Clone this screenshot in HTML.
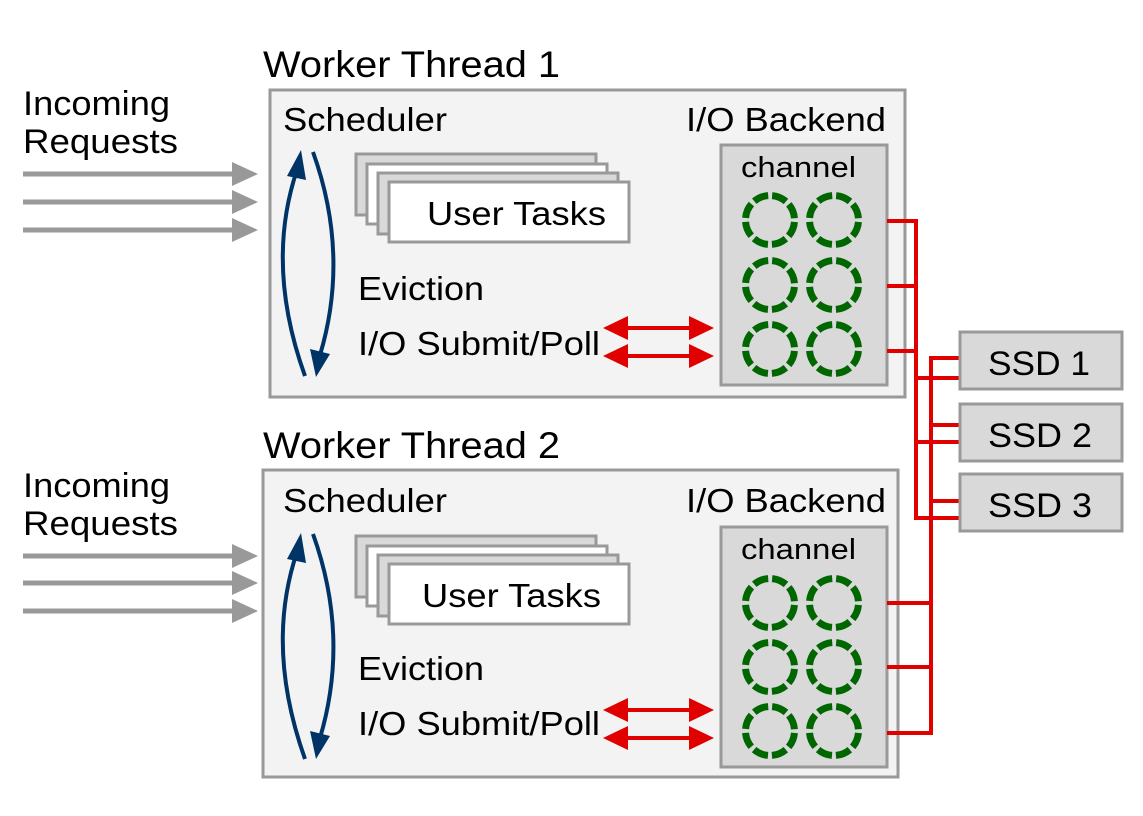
<!DOCTYPE html>
<html><head><style>html,body{margin:0;padding:0;background:#fff}svg{display:block}</style></head><body>
<svg width="1143" height="816" viewBox="0 0 1143 816" xmlns="http://www.w3.org/2000/svg" font-family="Liberation Sans, sans-serif">
<style>
.r{stroke:#e00000;stroke-width:4;fill:none}
.c{fill:none;stroke:#006600;stroke-width:7;stroke-dasharray:15.24 4;stroke-dashoffset:-2}
</style>

<g stroke="#999" stroke-width="5">
<line x1="23" y1="174" x2="236" y2="174"/><line x1="23" y1="202" x2="236" y2="202"/><line x1="23" y1="230" x2="236" y2="230"/>
<line x1="23" y1="556" x2="236" y2="556"/><line x1="23" y1="583" x2="236" y2="583"/><line x1="23" y1="611" x2="236" y2="611"/>
</g>
<g fill="#999">
<path d="M232,162 L258,174 L232,186z"/><path d="M232,190 L258,202 L232,214z"/><path d="M232,218 L258,230 L232,242z"/>
<path d="M232,544 L258,556 L232,568z"/><path d="M232,571 L258,583 L232,595z"/><path d="M232,599 L258,611 L232,623z"/>
</g>
<text x="23" y="115" font-size="34" textLength="147" lengthAdjust="spacingAndGlyphs">Incoming</text>
<text x="23" y="153" font-size="34" textLength="155" lengthAdjust="spacingAndGlyphs">Requests</text>
<text x="23" y="497" font-size="34" textLength="147" lengthAdjust="spacingAndGlyphs">Incoming</text>
<text x="23" y="535" font-size="34" textLength="155" lengthAdjust="spacingAndGlyphs">Requests</text>

<text x="263" y="77" font-size="37" textLength="297" lengthAdjust="spacingAndGlyphs">Worker Thread 1</text>
<rect x="270" y="90" width="635" height="307" fill="#f3f3f3" stroke="#999" stroke-width="3"/>
<text x="283" y="131" font-size="33" textLength="164" lengthAdjust="spacingAndGlyphs">Scheduler</text>
<text x="686" y="131" font-size="33" textLength="200" lengthAdjust="spacingAndGlyphs">I/O Backend</text>
<rect x="356" y="154" width="240" height="61" fill="#d9d9d9" stroke="#999" stroke-width="3"/>
<rect x="367" y="164" width="240" height="60" fill="#fff" stroke="#999" stroke-width="3"/>
<rect x="378" y="173" width="240" height="61" fill="#d9d9d9" stroke="#999" stroke-width="3"/>
<rect x="389" y="182" width="240" height="60" fill="#fff" stroke="#999" stroke-width="3"/>
<text x="427" y="225" font-size="33" textLength="179" lengthAdjust="spacingAndGlyphs">User Tasks</text>
<text x="358" y="300" font-size="33" textLength="126" lengthAdjust="spacingAndGlyphs">Eviction</text>
<text x="358" y="355" font-size="33" textLength="242" lengthAdjust="spacingAndGlyphs">I/O Submit/Poll</text>
<path d="M305,376 Q265,265 297,170" stroke="#003366" stroke-width="4" fill="none"/>
<path d="M301,150 L287,176 L306,180z" fill="#003366"/>
<path d="M313,152 Q350,255 320,355" stroke="#003366" stroke-width="4" fill="none"/>
<path d="M316,377 L310,349 L330,354z" fill="#003366"/>
<rect x="721" y="145" width="166" height="240" fill="#d9d9d9" stroke="#999" stroke-width="3"/>
<text x="741" y="177" font-size="29" textLength="115" lengthAdjust="spacingAndGlyphs">channel</text>
<g class="c">
<circle cx="770" cy="220" r="24.5"/><circle cx="834" cy="220" r="24.5"/>
<circle cx="770" cy="285" r="24.5"/><circle cx="834" cy="285" r="24.5"/>
<circle cx="770" cy="349" r="24.5"/><circle cx="834" cy="349" r="24.5"/>
</g>
<g stroke="#e00000" stroke-width="4"><line x1="620" y1="328" x2="696" y2="328"/><line x1="620" y1="356" x2="696" y2="356"/></g>
<g fill="#e00000">
<path d="M603,328 L628,316 L628,340z"/><path d="M714,328 L689,316 L689,340z"/>
<path d="M603,356 L628,344 L628,368z"/><path d="M714,356 L689,344 L689,368z"/>
</g>

<text x="263" y="458" font-size="37" textLength="297" lengthAdjust="spacingAndGlyphs">Worker Thread 2</text>
<rect x="263" y="470" width="635" height="307" fill="#f3f3f3" stroke="#999" stroke-width="3"/>
<text x="283" y="512" font-size="33" textLength="164" lengthAdjust="spacingAndGlyphs">Scheduler</text>
<text x="686" y="512" font-size="33" textLength="200" lengthAdjust="spacingAndGlyphs">I/O Backend</text>
<rect x="356" y="536" width="240" height="61" fill="#d9d9d9" stroke="#999" stroke-width="3"/>
<rect x="367" y="546" width="240" height="60" fill="#fff" stroke="#999" stroke-width="3"/>
<rect x="378" y="555" width="240" height="61" fill="#d9d9d9" stroke="#999" stroke-width="3"/>
<rect x="389" y="564" width="240" height="60" fill="#fff" stroke="#999" stroke-width="3"/>
<text x="422" y="607" font-size="33" textLength="179" lengthAdjust="spacingAndGlyphs">User Tasks</text>
<text x="358" y="680" font-size="33" textLength="126" lengthAdjust="spacingAndGlyphs">Eviction</text>
<text x="358" y="735" font-size="33" textLength="242" lengthAdjust="spacingAndGlyphs">I/O Submit/Poll</text>
<path d="M305,759 Q265,647 297,552" stroke="#003366" stroke-width="4" fill="none"/>
<path d="M301,533 L287,559 L306,563z" fill="#003366"/>
<path d="M313,534 Q350,637 320,738" stroke="#003366" stroke-width="4" fill="none"/>
<path d="M316,759 L310,731 L330,736z" fill="#003366"/>
<rect x="721" y="527" width="166" height="240" fill="#d9d9d9" stroke="#999" stroke-width="3"/>
<text x="741" y="559" font-size="29" textLength="115" lengthAdjust="spacingAndGlyphs">channel</text>
<g class="c">
<circle cx="770" cy="603" r="24.5"/><circle cx="834" cy="603" r="24.5"/>
<circle cx="770" cy="667" r="24.5"/><circle cx="834" cy="667" r="24.5"/>
<circle cx="770" cy="731" r="24.5"/><circle cx="834" cy="731" r="24.5"/>
</g>
<g stroke="#e00000" stroke-width="4"><line x1="620" y1="710" x2="696" y2="710"/><line x1="620" y1="738" x2="696" y2="738"/></g>
<g fill="#e00000">
<path d="M603,710 L628,698 L628,722z"/><path d="M714,710 L689,698 L689,722z"/>
<path d="M603,738 L628,726 L628,750z"/><path d="M714,738 L689,726 L689,750z"/>
</g>

<g class="r">
<polyline points="887,221 916,221 916,518 960,518"/>
<line x1="887" y1="286" x2="916" y2="286"/>
<line x1="887" y1="351" x2="916" y2="351"/>
<line x1="916" y1="378" x2="960" y2="378"/>
<line x1="916" y1="442" x2="960" y2="442"/>
<polyline points="960,358 931,358 931,733 887,733"/>
<line x1="931" y1="425" x2="960" y2="425"/>
<line x1="931" y1="501" x2="960" y2="501"/>
<line x1="887" y1="603" x2="931" y2="603"/>
<line x1="887" y1="667" x2="931" y2="667"/>
</g>

<rect x="960" y="332" width="162" height="57" fill="#d9d9d9" stroke="#999" stroke-width="3"/>
<rect x="960" y="404" width="162" height="57" fill="#d9d9d9" stroke="#999" stroke-width="3"/>
<rect x="960" y="474" width="162" height="57" fill="#d9d9d9" stroke="#999" stroke-width="3"/>
<text x="988" y="375" font-size="34" textLength="102" lengthAdjust="spacingAndGlyphs">SSD 1</text>
<text x="988" y="447" font-size="34" textLength="104" lengthAdjust="spacingAndGlyphs">SSD 2</text>
<text x="988" y="517" font-size="34" textLength="104" lengthAdjust="spacingAndGlyphs">SSD 3</text>
</svg>
</body></html>
